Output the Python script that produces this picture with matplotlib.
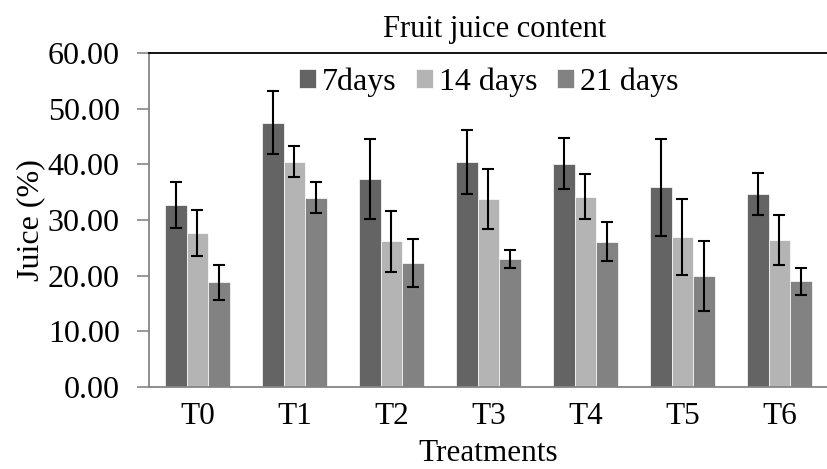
import numpy as np
import matplotlib.pyplot as plt

treatments = ['T0', 'T1', 'T2', 'T3', 'T4', 'T5', 'T6']
series = ['7days', '14 days', '21 days']
juice_7 = [32.7, 47.5, 37.3, 40.4, 40.1, 35.9, 34.7]
juice_14 = [27.7, 40.5, 26.2, 33.8, 34.2, 26.9, 26.4]
juice_21 = [18.8, 34.0, 22.3, 23.0, 26.1, 19.9, 19.0]
err_7 = [4.1, 5.7, 7.2, 5.8, 4.6, 8.7, 3.8]
err_14 = [4.1, 2.8, 5.5, 5.4, 4.0, 6.8, 4.5]
err_21 = [3.2, 2.8, 4.3, 1.7, 3.5, 6.3, 2.4]
colors = ['#646464', '#b4b4b4', '#828282']

plt.rcParams['font.family'] = ['Liberation Serif', 'DejaVu Serif']

fig = plt.figure(figsize=(8.28, 4.69), dpi=100)
ax = fig.add_axes([149 / 828, 82 / 469, 679 / 828, 334 / 469])

x = np.arange(len(treatments))
w = 1 / 4.5
for i, (vals, errs) in enumerate(zip([juice_7, juice_14, juice_21], [err_7, err_14, err_21])):
    ax.bar(x + (i - 1) * w, vals, width=w, color=colors[i], label=series[i],
           edgecolor='white', linewidth=0.5,
           yerr=errs, capsize=4.5,
           error_kw=dict(ecolor='black', elinewidth=1.5, capthick=1.5))

ax.set_xlim(-0.5, len(treatments) - 0.5)
ax.set_ylim(0, 60)
ax.set_yticks(np.arange(0, 61, 10))
ax.set_yticklabels([f'{v:.2f}' for v in np.arange(0, 61, 10)], fontsize=23)
ax.set_xticks(x)
ax.set_xticklabels(treatments, fontsize=22.5)
ax.tick_params(axis='x', length=0, pad=11)
ax.tick_params(axis='y', length=9, width=1.2, color='#868686', pad=12)

ax.spines['right'].set_visible(False)
ax.spines['top'].set_color('black')
ax.spines['top'].set_linewidth(1.3)
ax.spines['left'].set_color('#868686')
ax.spines['bottom'].set_color('#868686')
ax.spines['left'].set_linewidth(1.3)
ax.spines['bottom'].set_linewidth(1.3)

# x-axis title placed at the bottom edge of the figure
fig.text(488 / 828, 1 / 469, 'Treatments', fontsize=22.5, ha='center', va='bottom')
ax.set_ylabel('Juice (%)', fontsize=23, labelpad=2)
fig.text(495 / 828, 1 - 29 / 469, 'Fruit juice content', fontsize=22,
         ha='center', va='center')

ax.legend(loc='center', bbox_to_anchor=(0.5, 1 - 29 / 334), ncol=3, frameon=False,
          fontsize=23, handlelength=0.55, handleheight=0.55, handletextpad=0.18,
          columnspacing=0.6, borderaxespad=0.0)

fig.savefig('out.png', dpi=100)
